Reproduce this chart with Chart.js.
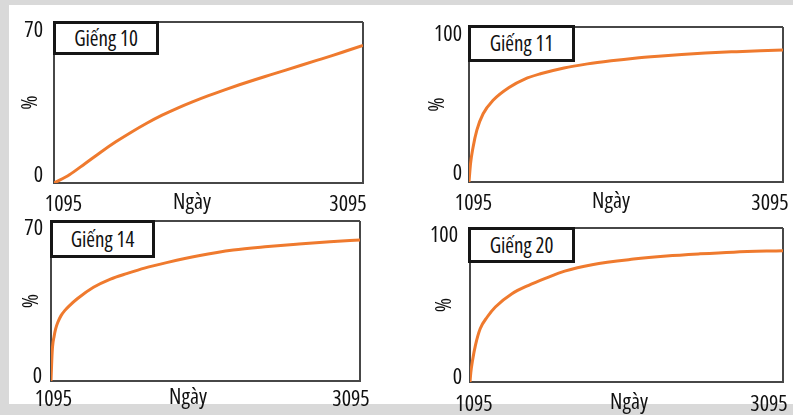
<!DOCTYPE html>
<html>
<head>
<meta charset="utf-8">
<script src="https://cdn.jsdelivr.net/npm/chart.js@4.4.1/dist/chart.umd.min.js"></script>
<style>
html,body{margin:0;padding:0;background:#fff;}
#root{position:relative;width:793px;height:415px;overflow:hidden;background:#fff;}
.band{position:absolute;background:#d9d9d9;}
.panel{position:absolute;}
.panel canvas{display:block;}
.tag{position:absolute;box-sizing:border-box;border:3px solid #161616;background:#fff;color:#111;
  font-family:'Open Sans',sans-serif;font-stretch:condensed;font-size:21px;line-height:1;
  display:flex;align-items:center;justify-content:center;z-index:5;}
</style>
</head>
<body>
<div id="root">
  <div class="band" style="left:0;top:0;width:793px;height:5px"></div>
  <div class="band" style="left:0;top:0;width:9px;height:415px"></div>
  <div class="band" style="left:0;top:404px;width:793px;height:11px"></div>
</div>
<script>
// ---------- data ----------
const xTickValues = [1095, 3095];
const xTitle = 'Ngày';
const yTitle = '%';
const wellNames = ['Giếng 10', 'Giếng 11', 'Giếng 14', 'Giếng 20'];

const yTicks10 = [0, 70];
const yTicks11 = [0, 100];
const yTicks14 = [0, 70];
const yTicks20 = [0, 100];

const days10 = [1095,1195,1295,1395,1495,1595,1695,1795,1895,1995,2095,2195,2295,2395,2495,2595,2695,2795,2895,2995,3095];
const pct10  = [0,3.6,8.4,13.3,17.9,22.1,26.0,29.5,32.6,35.4,38.0,40.4,42.7,44.9,47.0,49.1,51.2,53.3,55.4,57.6,59.8];

const days11 = [1095,1105,1120,1145,1185,1250,1350,1450,1550,1700,1850,2000,2150,2300,2450,2600,2800,2950,3095];
const pct11  = [0,12,22,33.5,44,52.9,61,66.4,69.8,73.6,76.2,78.2,79.9,81.2,82.3,83.2,84.1,84.7,85.2];

const days14 = [1095,1100,1105,1115,1125,1140,1160,1185,1215,1265,1370,1480,1590,1700,1850,2050,2275,2500,2700,2900,3095];
const pct14  = [0,9,15,19.5,22.8,25.8,28.6,30.9,33,36,41,44.6,47.1,49.4,51.9,54.8,57.3,58.8,59.9,60.9,61.7];

const days20 = [1095,1100,1112,1130,1160,1205,1257,1363,1470,1576,1700,1875,2140,2350,2565,2780,3095];
const pct20  = [0,6,14.5,24,34.6,42.2,48.7,57.3,62.8,67.3,72,76.2,79.8,81.8,83.2,84.3,85.3];

// ---------- style / layout ----------
const FAMILY = "'Open Sans', sans-serif";
const STRETCH = 'condensed';
const ORANGE = '#ef7a2e';
const FRAME = '#474747';
const TXT = '#111111';
const HX = 30;

const panels = [
  {days: days10, pct: pct10, yTicks: yTicks10, name: wellNames[0], box:[-30,-30,430,260], area:[54,22,363,183],
   pctX:29,  ngayX:192, xDy:9,   xDx:[9.5,-15], yNudge:[[-11,-7.4],[-11,8.6]], tag:[53,21,106,34]},
  {days: days11, pct: pct11, yTicks: yTicks11, name: wellNames[1], box:[390,-30,440,260], area:[469,27,783,182],
   pctX:436, ngayX:611, xDy:9,   xDx:[4.5,-13], yNudge:[[-7,-7.9],[-7,7.6]],  tag:[468,25,107,37]},
  {days: days14, pct: pct14, yTicks: yTicks14, name: wellNames[2], box:[-30,190,430,260], area:[51,221,360,381],
   pctX:30,  ngayX:188, xDy:5.5, xDx:[2.5,-9],  yNudge:[[-9,-4.4],[-8,7.6]],  tag:[50,220,105,38]},
  {days: days20, pct: pct20, yTicks: yTicks20, name: wellNames[3], box:[390,190,440,260], area:[470,228,783,382],
   pctX:443, ngayX:629, xDy:9.5, xDx:[4,-14],   yNudge:[[-8,-4.4],[-12,7.6]], tag:[468,227,107,36]}
];

// shift individual tick labels (per tick index) after Chart.js lays them out
function nudgeLabels(scale, shifts) {
  if (scale.__nudged) return;
  scale.__nudged = true;
  const orig = scale._computeLabelItems;
  if (typeof orig !== 'function') return;
  scale._computeLabelItems = function (ca) {
    const items = orig.call(this, ca);
    items.forEach((it, i) => {
      const s = shifts[i];
      if (s && it.options && it.options.translation) {
        const tr = it.options.translation;
        it.options.translation = [tr[0] + s[0], tr[1] + s[1]];
      }
    });
    return items;
  };
}

const ngayPlugin = {
  id: 'ngay',
  afterDraw(chart, args, opts) {
    const ctx = chart.ctx;
    const sx = chart.scales.x;
    ctx.save();
    ctx.font = STRETCH + ' 22px ' + FAMILY;
    ctx.fillStyle = TXT;
    ctx.textAlign = 'center';
    ctx.textBaseline = 'top';
    ctx.fillText(opts.text, opts.x, sx.top + opts.dy);
    ctx.restore();
  }
};

const root = document.getElementById('root');

panels.forEach(p => {
  const [cx, cy, cw, ch] = p.box;
  const [l, t, r, b] = p.area;
  const yMax = p.yTicks[p.yTicks.length - 1];

  const wrap = document.createElement('div');
  wrap.className = 'panel';
  wrap.style.left = cx + 'px';
  wrap.style.top = cy + 'px';
  wrap.style.width = cw + 'px';
  wrap.style.height = ch + 'px';
  const cv = document.createElement('canvas');
  cv.width = cw; cv.height = ch;
  cv.style.width = cw + 'px'; cv.style.height = ch + 'px';
  wrap.appendChild(cv);
  root.appendChild(wrap);

  const tag = document.createElement('div');
  tag.className = 'tag';
  tag.style.left = p.tag[0] + 'px';
  tag.style.top = p.tag[1] + 'px';
  tag.style.width = p.tag[2] + 'px';
  tag.style.height = p.tag[3] + 'px';
  tag.textContent = p.name;
  root.appendChild(tag);

  const tickFont = {family: FAMILY, size: 22, weight: STRETCH};

  new Chart(cv, {
    type: 'line',
    data: {
      datasets: [{
        label: p.name,
        data: p.days.map((d, k) => ({x: d, y: p.pct[k]})),
        borderColor: ORANGE,
        borderWidth: 3,
        pointRadius: 0,
        cubicInterpolationMode: 'monotone',
        fill: false
      }]
    },
    options: {
      responsive: false,
      animation: false,
      devicePixelRatio: 1,
      events: [],
      layout: {padding: {left: 0, top: t - cy, right: cx + cw - r, bottom: cy + ch - b - HX}},
      plugins: {
        legend: {display: false},
        tooltip: {enabled: false},
        ngay: {text: xTitle, x: p.ngayX - cx, dy: p.xDy}
      },
      scales: {
        x: {
          type: 'linear',
          min: xTickValues[0],
          max: xTickValues[xTickValues.length - 1],
          afterBuildTicks: s => { s.ticks = xTickValues.map(v => ({value: v})); },
          afterFit: s => { s.height = HX; nudgeLabels(s, p.xDx.map(dx => [dx, p.xDy])); },
          grid: {color: FRAME, lineWidth: 2, drawTicks: false},
          border: {display: true, color: FRAME, width: 2},
          ticks: {
            color: TXT, font: tickFont,
            padding: 0, maxRotation: 0, autoSkip: false,
            callback: v => String(v)
          }
        },
        y: {
          type: 'linear',
          min: p.yTicks[0],
          max: yMax,
          afterBuildTicks: s => { s.ticks = p.yTicks.map(v => ({value: v})); },
          afterFit: s => { s.width = l - cx; nudgeLabels(s, p.yNudge); },
          grid: {color: FRAME, lineWidth: 2, drawTicks: false},
          border: {display: true, color: FRAME, width: 2},
          ticks: {
            color: TXT, padding: 0, autoSkip: false, font: tickFont,
            callback: v => String(v)
          },
          title: {
            display: true, text: yTitle, color: TXT,
            font: {family: FAMILY, size: 22, weight: STRETCH, lineHeight: '22px'},
            padding: {top: p.pctX + 1.6 - cx - 11, bottom: 0}
          }
        }
      }
    },
    plugins: [ngayPlugin]
  });
});
</script>
</body>
</html>
